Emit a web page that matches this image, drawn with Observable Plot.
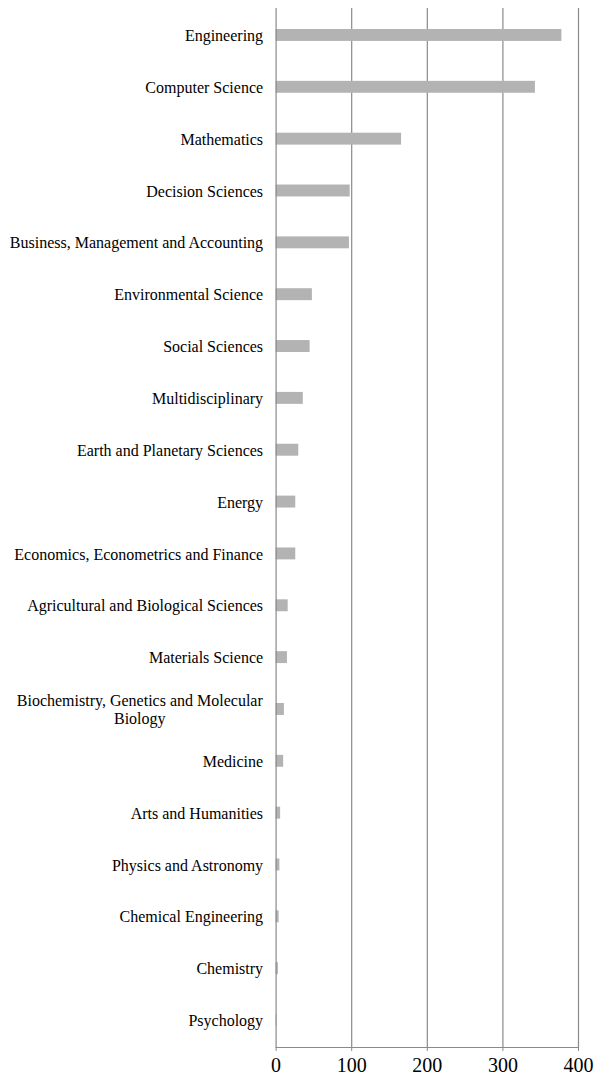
<!DOCTYPE html>
<html>
<head>
<meta charset="utf-8">
<script src="https://cdn.jsdelivr.net/npm/d3@7"></script>
<script src="https://cdn.jsdelivr.net/npm/@observablehq/plot@0.6"></script>
<style>
  html, body { margin: 0; padding: 0; background: #fff; }
  #chart svg { display: block; }
</style>
</head>
<body>
<div id="chart"></div>
<script>
const categories = [
  "Engineering",
  "Computer Science",
  "Mathematics",
  "Decision Sciences",
  "Business, Management and Accounting",
  "Environmental Science",
  "Social Sciences",
  "Multidisciplinary",
  "Earth and Planetary Sciences",
  "Energy",
  "Economics, Econometrics and Finance",
  "Agricultural and Biological Sciences",
  "Materials Science",
  "Biochemistry, Genetics and Molecular Biology",
  "Medicine",
  "Arts and Humanities",
  "Physics and Astronomy",
  "Chemical Engineering",
  "Chemistry",
  "Psychology"
];
const values = [378, 343, 166, 98, 97, 48, 45, 36, 30, 26, 26, 16, 15, 11, 10, 6, 5, 4, 3, 1];
const xTicks = [0, 100, 200, 300, 400];
const wrappedLabels = {
  "Biochemistry, Genetics and Molecular Biology": "Biochemistry, Genetics and Molecular\nBiology"
};

const data = categories.map((c, i) => ({category: c, value: values[i]}));
const serif = "'Liberation Serif', 'Times New Roman', 'DejaVu Serif', serif";

const chart = Plot.plot({
  width: 595,
  height: 1079,
  marginLeft: 275.6,
  marginRight: 17,
  marginTop: 8,
  marginBottom: 32,
  style: {fontFamily: serif, background: "#fff", color: "#000"},
  x: {domain: [0, 400], ticks: xTicks},
  y: {domain: categories, paddingInner: 0.77, paddingOuter: 0.405, round: false},
  marks: [
    Plot.gridX(xTicks.filter(d => d > 0), {stroke: "#8a8a8a", strokeOpacity: 1, strokeWidth: 1.2}),
    Plot.barX(data, {y: "category", x: "value", fill: "#b3b3b3"}),
    Plot.ruleX([0], {stroke: "#8a8a8a", strokeWidth: 1.2}),
    Plot.frame({anchor: "bottom", stroke: "#8a8a8a", strokeWidth: 1.2}),
    Plot.axisX(xTicks, {
      tickSize: 4, tickPadding: 6, stroke: "#8a8a8a", fontSize: 20,
      fill: "#000", label: null, fontFamily: serif
    }),
    Plot.axisY({
      tickSize: 0, tickPadding: 13, fontSize: 16, fill: "#000", label: null,
      fontFamily: serif, textAnchor: "end", lineAnchor: "middle", lineHeight: 1.1,
      tickFormat: d => wrappedLabels[d] ?? d
    })
  ]
});

document.getElementById("chart").appendChild(chart);

// Center-align the wrapped label's lines, keeping its right edge in place
chart.querySelectorAll("text").forEach(t => {
  if (t.textContent.includes("Biochemistry")) {
    const bb = t.getBBox();
    t.setAttribute("text-anchor", "middle");
    t.querySelectorAll("tspan").forEach(ts => ts.setAttribute("x", -bb.width / 2));
  }
});
</script>
</body>
</html>
